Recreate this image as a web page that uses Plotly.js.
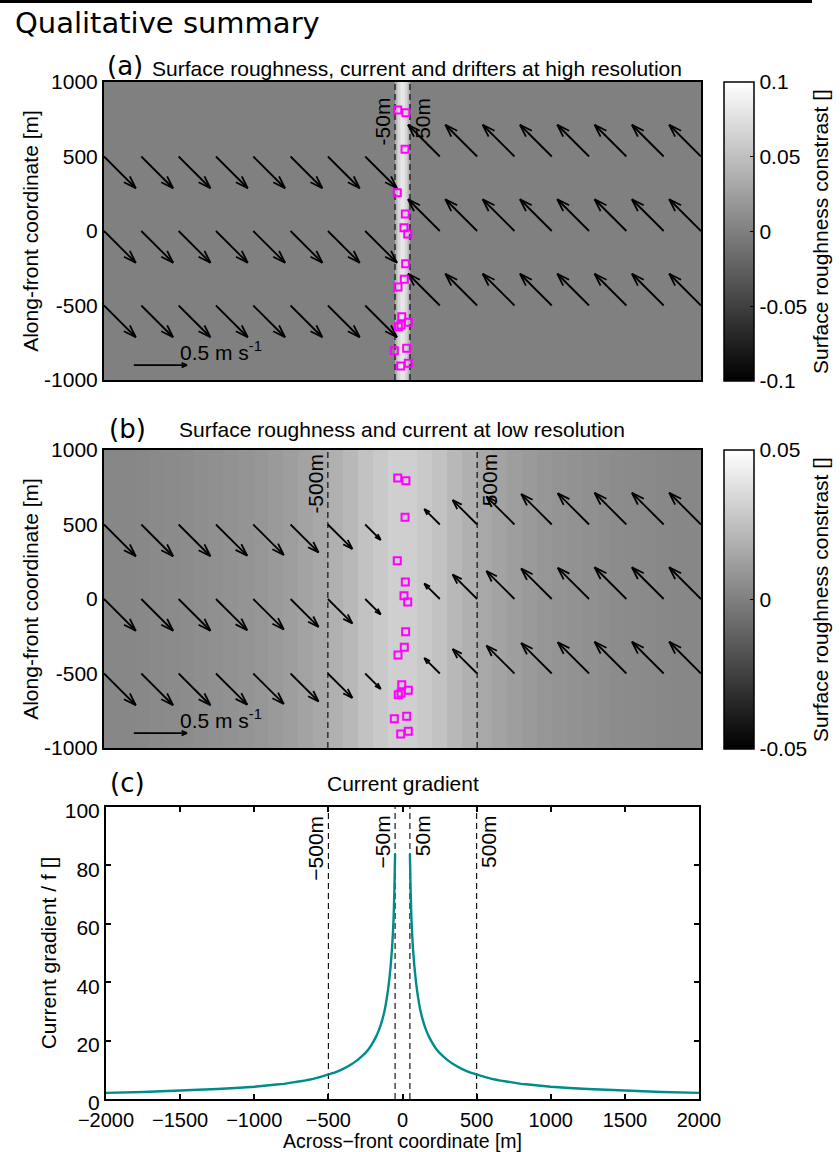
<!DOCTYPE html>
<html><head><meta charset="utf-8">
<script src="https://cdn.plot.ly/plotly-3.0.1.min.js"></script>
<style>html,body{margin:0;padding:0;background:#fff}#chart{width:840px;height:1152px}</style>
</head><body><div id="chart"></div>
<script>
// ================= DATA =================
// Panel (a): high-resolution surface roughness constrast (cell edges in m, values per cell)
const hiresEdges = [-2000, -50, -40, -30, -20, -10, 0, 10, 20, 30, 40, 50, 2000];
const hiresRoughness = [0, 0.04, 0.055, 0.068, 0.077, 0.081, 0.081, 0.077, 0.068, 0.055, 0.04, 0];

// Panel (b): low-resolution surface roughness constrast
const loresEdges = [-2000,-1900,-1800,-1700,-1600,-1500,-1400,-1300,-1200,-1100,-1000,-900,-800,-700,-600,-500,-400,-300,-200,-100,0,
                    100,200,300,400,500,600,700,800,900,1000,1100,1200,1300,1400,1500,1600,1700,1800,1900,2000];
const loresRoughness = [0.0028,0.0031,0.0035,0.004,0.0045,0.005,0.0057,0.0064,0.0072,0.008,0.009,0.0105,0.012,0.014,0.016,0.019,0.022,0.026,0.029,0.031,
                        0.031,0.029,0.026,0.022,0.019,0.016,0.014,0.012,0.0105,0.009,0.008,0.0072,0.0064,0.0057,0.005,0.0045,0.004,0.0035,0.0031,0.0028];

// Current vectors (tail positions and components, m/s)
const arrowTailX = [-2000,-1750,-1500,-1250,-1000,-750,-500,-250,250,500,750,1000,1250,1500,1750,2000];
const arrowTailY = [500, 0, -500];
const hiresU = [0.30,0.30,0.30,0.30,0.30,0.30,0.30,0.30,-0.30,-0.30,-0.30,-0.30,-0.30,-0.30,-0.30,-0.30];
const hiresV = [-0.30,-0.30,-0.30,-0.30,-0.30,-0.30,-0.30,-0.30,0.30,0.30,0.30,0.30,0.30,0.30,0.30,0.30];
const loresU = [0.30,0.30,0.30,0.295,0.288,0.264,0.231,0.146,-0.146,-0.231,-0.264,-0.288,-0.295,-0.30,-0.30,-0.30];
const loresV = [-0.30,-0.30,-0.30,-0.295,-0.288,-0.264,-0.231,-0.146,0.146,0.231,0.264,0.288,0.295,0.30,0.30,0.30];

// Reference (scale) vector
const scaleArrowX = [-1800];
const scaleArrowY = [-900];
const scaleArrowSpeed = [0.5];
const scaleLabel = ['0.5 m s<sup>-1</sup>'];
const scaleLabelX = [-1500];
const scaleLabelY = [-900];

// Drifters
const drifterX = [-32, 23, 17, -35, 19, 10, 35, 21, 12, -30, -5, 39, -28, -10, -55, 28, 39, -12];
const drifterY = [812, 794, 548, 257, 114, 22, -20, -219, -324, -376, -575, -613, -642, -631, -803, -787, -888, -906];

// Front width markers
const fineFrontX = [-50, 50];
const fineFrontText = ['-50m', '50m'];
const coarseFrontX = [-500, 500];
const coarseFrontText = ['-500m', '500m'];
const gradFrontX = [-500, -50, 50, 500];
const gradFrontText = ['\u2212500m', '\u221250m', '50m', '500m'];

// Panel (c): current gradient / f
const gradXLeft  = [-2000,-1750,-1500,-1250,-1000,-900,-800,-700,-600,-500,-450,-400,-350,-300,-275,-250,-225,-200,-180,-160,-140,-120,-100,-90,-80,-70,-65,-60,-55,-50];
const gradLeft   = [2.1,2.4,2.9,3.4,4.2,4.7,5.2,6.0,6.9,8.4,9.2,10.3,11.7,13.5,14.6,15.8,17.3,19.3,21.2,23.5,26.5,30.5,36.5,40.5,45.5,52,56.5,62,71,84];
const gradXRight = [50,55,60,65,70,80,90,100,120,140,160,180,200,225,250,275,300,350,400,450,500,600,700,800,900,1000,1250,1500,1750,2000];
const gradRight  = [84,71,62,56.5,52,45.5,40.5,36.5,30.5,26.5,23.5,21.2,19.3,17.3,15.8,14.6,13.5,11.7,10.3,9.2,8.4,6.9,6.0,5.2,4.7,4.2,3.4,2.9,2.4,2.1];

// Tick labels
const alongTicks = [-1000, -500, 0, 500, 1000];
const alongTickText = ['-1000', '-500', '0', '500', '1000'];
const acrossTicks = [-2000, -1500, -1000, -500, 0, 500, 1000, 1500, 2000];
const acrossTickText = ['\u22122000', '\u22121500', '\u22121000', '\u2212500', '0', '500', '1000', '1500', '2000'];
const gradTicks = [0, 20, 40, 60, 80, 100];
const gradTickText = ['0', '20', '40', '60', '80', '100'];
const cbTicksA = [-0.1, -0.05, 0, 0.05, 0.1];
const cbTickTextA = ['-0.1', '-0.05', '0', '0.05', '0.1'];
const cbTicksB = [-0.05, 0, 0.05];
const cbTickTextB = ['-0.05', '0', '0.05'];

// ================= STYLE / HELPERS =================
const W = 840, H = 1152;
const PX = v => v / W;
const PY = v => 1 - v / H;
const HELV = 'Liberation Sans, Arial, Helvetica, sans-serif';
const DEJA = 'DejaVu Sans, sans-serif';
const FS = 21;
const QSCALE = 710;          // metres of arrow per m/s
const grayScale = [[0, 'rgb(0,0,0)'], [1, 'rgb(255,255,255)']];
const F = (size, fam) => ({family: fam || HELV, size: size || FS, color: '#000'});

function quiver(tx, ty, u, v, scale, alpha, beta) {
  const xs = [], ys = [];
  for (const y0 of ty) {
    for (let i = 0; i < tx.length; i++) {
      const x0 = tx[i], du = u[i] * scale, dv = v[i] * scale;
      const x1 = x0 + du, y1 = y0 + dv;
      xs.push(x0, x1, null, x1 - alpha * (du + beta * dv), x1, x1 - alpha * (du - beta * dv), null);
      ys.push(y0, y1, null, y1 - alpha * (dv - beta * du), y1, y1 - alpha * (dv + beta * du), null);
    }
  }
  return {xs, ys};
}
function vlines(xv, y0, y1) {
  const xs = [], ys = [];
  xv.forEach(x => { xs.push(x, x, null); ys.push(y0, y1, null); });
  return {xs, ys};
}

const traces = [];
function addPanel(xa, ya, edges, vals, zmin, zmax, cb, u, v, fronts) {
  traces.push({type: 'heatmap', x: edges, y: [-1000, 1000], z: [vals], xaxis: xa, yaxis: ya,
    colorscale: grayScale, zmin: zmin, zmax: zmax, zsmooth: false, showscale: true, colorbar: cb, hoverinfo: 'skip'});
  const q = quiver(arrowTailX, arrowTailY, u, v, QSCALE, 0.28, 0.33);
  traces.push({type: 'scatter', mode: 'lines', x: q.xs, y: q.ys, xaxis: xa, yaxis: ya,
    line: {color: '#000', width: 1.8}, hoverinfo: 'skip', showlegend: false});
  const s = quiver(scaleArrowX, scaleArrowY, [scaleArrowSpeed[0]], [0], QSCALE, 0.1, 0.45);
  traces.push({type: 'scatter', mode: 'lines', x: s.xs, y: s.ys, xaxis: xa, yaxis: ya,
    line: {color: '#000', width: 1.8}, hoverinfo: 'skip', showlegend: false});
  const d = vlines(fronts, -1000, 1000);
  traces.push({type: 'scatter', mode: 'lines', x: d.xs, y: d.ys, xaxis: xa, yaxis: ya,
    line: {color: '#000', width: 1.1, dash: '6px,4px'}, hoverinfo: 'skip', showlegend: false});
  traces.push({type: 'scatter', mode: 'markers', x: drifterX, y: drifterY, xaxis: xa, yaxis: ya,
    marker: {symbol: 'square-open', size: 7, color: '#ff00ff', line: {color: '#ff00ff', width: 2}},
    hoverinfo: 'skip', showlegend: false});
}

function cbar(topPx, botPx, tv, tt) {
  return {x: PX(724), xanchor: 'left', xpad: 0, y: PY(topPx), yanchor: 'top', ypad: 0,
    len: (botPx - topPx) / H, lenmode: 'fraction', thickness: 30, thicknessmode: 'pixels',
    outlinewidth: 1.5, outlinecolor: '#000', tickvals: tv, ticktext: tt, ticks: 'inside', ticklen: 4,
    tickcolor: '#000', tickwidth: 1, tickfont: F(FS),
    title: {text: 'Surface roughness constrast []', side: 'right', font: F(FS)}};
}

addPanel('x', 'y', hiresEdges, hiresRoughness, -0.1, 0.1, cbar(82, 381, cbTicksA, cbTickTextA), hiresU, hiresV, fineFrontX);
addPanel('x2', 'y2', loresEdges, loresRoughness, -0.05, 0.05, cbar(450, 749, cbTicksB, cbTickTextB), loresU, loresV, coarseFrontX);

// Panel (c)
const dc = vlines(gradFrontX, 0, 100);
traces.push({type: 'scatter', mode: 'lines', x: dc.xs, y: dc.ys, xaxis: 'x3', yaxis: 'y3',
  line: {color: '#000', width: 1.1, dash: '6px,4px'}, hoverinfo: 'skip', showlegend: false});
traces.push({type: 'scatter', mode: 'lines', x: gradXLeft, y: gradLeft, xaxis: 'x3', yaxis: 'y3',
  line: {color: 'rgb(0,140,140)', width: 2.4, shape: 'spline', smoothing: 0.3}, hoverinfo: 'skip', showlegend: false});
traces.push({type: 'scatter', mode: 'lines', x: gradXRight, y: gradRight, xaxis: 'x3', yaxis: 'y3',
  line: {color: 'rgb(0,140,140)', width: 2.4, shape: 'spline', smoothing: 0.3}, hoverinfo: 'skip', showlegend: false});

// ================= LAYOUT =================
const boxAxis = {showline: true, mirror: true, linewidth: 2, linecolor: '#000', showgrid: false, zeroline: false, ticks: ''};
const C_BOT = 1099;

const layout = {
  width: W, height: H, paper_bgcolor: '#fff', plot_bgcolor: '#fff', showlegend: false,
  margin: {l: 0, r: 0, t: 0, b: 0, autoexpand: false},
  font: {family: HELV, color: '#000', size: FS},
  xaxis: Object.assign({}, boxAxis, {domain: [PX(104), PX(701)], range: [-2000, 2000], showticklabels: false, anchor: 'y'}),
  yaxis: Object.assign({}, boxAxis, {domain: [PY(380), PY(82)], range: [-1000, 1000], anchor: 'x',
    tickvals: alongTicks, ticktext: alongTickText, tickfont: F(FS), ticklabelstandoff: 0,
    title: {text: 'Along-front coordinate [m]', font: F(FS), standoff: 0}}),
  xaxis2: Object.assign({}, boxAxis, {domain: [PX(104), PX(701)], range: [-2000, 2000], showticklabels: false, anchor: 'y2'}),
  yaxis2: Object.assign({}, boxAxis, {domain: [PY(748), PY(450)], range: [-1000, 1000], anchor: 'x2',
    tickvals: alongTicks, ticktext: alongTickText, tickfont: F(FS), ticklabelstandoff: 0,
    title: {text: 'Along-front coordinate [m]', font: F(FS), standoff: 0}}),
  xaxis3: {domain: [PX(106), PX(699)], range: [-2000, 2000], anchor: 'y3', showline: true, mirror: 'ticks', linewidth: 2,
    linecolor: '#000', showgrid: false, zeroline: false, ticks: 'inside', ticklen: 5, tickwidth: 2, tickcolor: '#000',
    tickvals: acrossTicks, ticktext: acrossTickText, tickfont: F(20), ticklabelstandoff: 2},
  yaxis3: {domain: [PY(C_BOT), PY(807)], range: [0, 100], anchor: 'x3', showline: true, mirror: 'ticks', linewidth: 2,
    linecolor: '#000', showgrid: false, zeroline: false, ticks: 'inside', ticklen: 5, tickwidth: 2, tickcolor: '#000',
    tickvals: gradTicks, ticktext: gradTickText, tickfont: F(FS), ticklabelstandoff: 0, ticklabelshift: 4,
    title: {text: 'Current gradient / f []', font: F(FS), standoff: 2}},
  shapes: [{type: 'line', xref: 'paper', yref: 'paper', x0: 0, x1: PX(812), y0: PY(1.5), y1: PY(1.5), line: {color: '#000', width: 3}}],
  annotations: []
};

const A = layout.annotations;
function txt(text, x, y, opt) {
  A.push(Object.assign({text: text, x: x, y: y, xref: 'paper', yref: 'paper', showarrow: false,
    xanchor: 'left', yanchor: 'middle', font: F(FS)}, opt || {}));
}
txt('Qualitative summary', PX(13), PY(23), {font: F(29, DEJA)});
txt('(a)', PX(105), PY(66), {font: F(26, DEJA)});
txt('Surface roughness, current and drifters at high resolution', PX(150), PY(68));
txt('(b)', PX(107), PY(429), {font: F(26, DEJA)});
txt('Surface roughness and current at low resolution', PX(402), PY(430), {xanchor: 'center'});
txt('(c)', PX(108), PY(783), {font: F(26, DEJA)});
txt('Current gradient', PX(403), PY(783), {xanchor: 'center'});
// x-axis title of panel (c), sitting on the bottom edge of the figure
txt('Across\u2212front coordinate [m]', PX(402.5), 0, {xanchor: 'center', yanchor: 'bottom', borderpad: 0, borderwidth: 0, font: F(19.5)});

// Scale labels
[['x', 'y'], ['x2', 'y2']].forEach(([xa, ya]) => {
  A.push({text: scaleLabel[0], x: scaleLabelX[0], y: scaleLabelY[0], xref: xa, yref: ya, showarrow: false,
    xanchor: 'left', yanchor: 'bottom', font: F(FS), borderpad: 0});
});
// Front labels (rotated)
function frontLabels(xv, tv, xa, ya, ytop) {
  xv.forEach((x, i) => {
    A.push({text: tv[i], x: x, y: ytop, xref: xa, yref: ya, showarrow: false, textangle: -90,
      xanchor: x < 0 ? 'right' : 'left', yanchor: 'top', font: F(FS), borderpad: 0});
  });
}
frontLabels(fineFrontX, fineFrontText, 'x', 'y', 900);
frontLabels(coarseFrontX, coarseFrontText, 'x2', 'y2', 985);
frontLabels(gradFrontX, gradFrontText, 'x3', 'y3', 97.5);

Plotly.newPlot('chart', traces, layout, {staticPlot: true, displayModeBar: false});
</script>
</body></html>
